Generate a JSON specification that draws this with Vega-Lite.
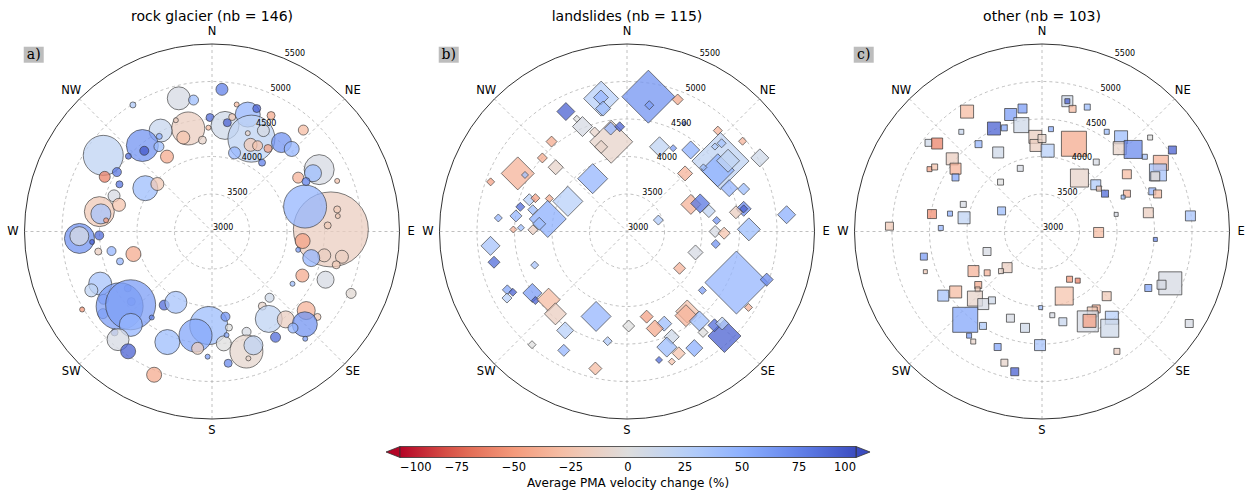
{
"$schema": "https://vega.github.io/schema/vega-lite/v6.json",
"background": "white",
"padding": {"left": 6.5, "top": 10, "right": 5, "bottom": 5},
"bounds": "flush",
"spacing": 40,
"config": {"view": {"stroke": null}, "font": "DejaVu Sans"},
"datasets": {
"spokes": [{"angle": 0}, {"angle": 45}, {"angle": 90}, {"angle": 135}],
"dirs": [{"dir": "N", "angle": 0}, {"dir": "NE", "angle": 45}, {"dir": "E", "angle": 90}, {"dir": "SE", "angle": 135}, {"dir": "S", "angle": 180}, {"dir": "SW", "angle": 225}, {"dir": "W", "angle": 270}, {"dir": "NW", "angle": 315}],
"elevs": [{"elevation": 3000}, {"elevation": 3500}, {"elevation": 4000}, {"elevation": 4500}, {"elevation": 5000}, {"elevation": 5500}],
"one": [{}],
"rg": [
{"aspect":346,"elevation":4830,"change":5,"area":529},
{"aspect":352,"elevation":4770,"change":40,"area":100},
{"aspect":328,"elevation":4990,"change":30,"area":36},
{"aspect":359,"elevation":4520,"change":85,"area":64},
{"aspect":358,"elevation":4385,"change":-30,"area":25},
{"aspect":347,"elevation":4410,"change":-15,"area":1089},
{"aspect":343,"elevation":4310,"change":-25,"area":169},
{"aspect":354,"elevation":4225,"change":-10,"area":64},
{"aspect":333,"elevation":4510,"change":15,"area":529},
{"aspect":342,"elevation":4560,"change":-15,"area":25},
{"aspect":321,"elevation":4475,"change":65,"area":1024},
{"aspect":320,"elevation":4405,"change":95,"area":81},
{"aspect":312,"elevation":4500,"change":85,"area":36},
{"aspect":328,"elevation":4335,"change":40,"area":100},
{"aspect":331,"elevation":4450,"change":50,"area":36},
{"aspect":329,"elevation":4165,"change":-40,"area":169},
{"aspect":305,"elevation":4770,"change":20,"area":1600},
{"aspect":302,"elevation":4495,"change":80,"area":81},
{"aspect":297,"elevation":4605,"change":-60,"area":121},
{"aspect":297,"elevation":4385,"change":80,"area":49},
{"aspect":303,"elevation":4060,"change":40,"area":625},
{"aspect":311,"elevation":3965,"change":-20,"area":169},
{"aspect":290,"elevation":4390,"change":5,"area":144},
{"aspect":280,"elevation":4525,"change":-20,"area":900},
{"aspect":279,"elevation":4500,"change":35,"area":400},
{"aspect":286,"elevation":4290,"change":-25,"area":169},
{"aspect":276,"elevation":4420,"change":-50,"area":25},
{"aspect":267,"elevation":4770,"change":65,"area":900},
{"aspect":268,"elevation":4770,"change":5,"area":361},
{"aspect":268,"elevation":4505,"change":85,"area":81},
{"aspect":265,"elevation":4605,"change":90,"area":25},
{"aspect":260,"elevation":4540,"change":-15,"area":49},
{"aspect":259,"elevation":4365,"change":45,"area":81},
{"aspect":252,"elevation":4290,"change":45,"area":49},
{"aspect":254,"elevation":4090,"change":-40,"area":225},
{"aspect":245,"elevation":4645,"change":35,"area":529},
{"aspect":244,"elevation":4790,"change":20,"area":169},
{"aspect":238,"elevation":4705,"change":55,"area":100},
{"aspect":233,"elevation":4820,"change":55,"area":100},
{"aspect":229,"elevation":4425,"change":55,"area":64},
{"aspect":236,"elevation":4355,"change":55,"area":49},
{"aspect":231,"elevation":4585,"change":60,"area":2209},
{"aspect":228,"elevation":4460,"change":60,"area":2500},
{"aspect":221,"elevation":4650,"change":45,"area":529},
{"aspect":239,"elevation":5020,"change":-50,"area":25},
{"aspect":213,"elevation":4170,"change":85,"area":100},
{"aspect":207,"elevation":4060,"change":35,"area":484},
{"aspect":215,"elevation":4400,"change":75,"area":25},
{"aspect":224,"elevation":4870,"change":70,"area":49},
{"aspect":221,"elevation":4910,"change":5,"area":484},
{"aspect":215,"elevation":4950,"change":90,"area":225},
{"aspect":202,"elevation":4590,"change":40,"area":625},
{"aspect":202,"elevation":5060,"change":-40,"area":225},
{"aspect":182,"elevation":4255,"change":40,"area":1444},
{"aspect":189,"elevation":4405,"change":55,"area":1089},
{"aspect":187,"elevation":4570,"change":-15,"area":144},
{"aspect":182,"elevation":4670,"change":60,"area":25},
{"aspect":89,"elevation":4585,"change":-15,"area":5625},
{"aspect":80,"elevation":4695,"change":-20,"area":49},
{"aspect":83,"elevation":4690,"change":-20,"area":25},
{"aspect":87,"elevation":4545,"change":-20,"area":49},
{"aspect":102,"elevation":4530,"change":-15,"area":169},
{"aspect":101,"elevation":4765,"change":-15,"area":169},
{"aspect":105,"elevation":4715,"change":-20,"area":64},
{"aspect":75,"elevation":4285,"change":45,"area":1849},
{"aspect":96,"elevation":4215,"change":-45,"area":225},
{"aspect":105,"elevation":4370,"change":45,"area":289},
{"aspect":102,"elevation":4175,"change":60,"area":25},
{"aspect":116,"elevation":4340,"change":-40,"area":169},
{"aspect":113,"elevation":4645,"change":5,"area":289},
{"aspect":123,"elevation":4280,"change":40,"area":25},
{"aspect":114,"elevation":5030,"change":-5,"area":100},
{"aspect":139,"elevation":4170,"change":10,"area":81},
{"aspect":146,"elevation":4200,"change":-10,"area":64},
{"aspect":147,"elevation":4390,"change":20,"area":729},
{"aspect":140,"elevation":4530,"change":-15,"area":289},
{"aspect":130,"elevation":4640,"change":-35,"area":324},
{"aspect":129,"elevation":4810,"change":-20,"area":49},
{"aspect":135,"elevation":4750,"change":65,"area":625},
{"aspect":140,"elevation":4680,"change":45,"area":100},
{"aspect":139,"elevation":4895,"change":60,"area":25},
{"aspect":149,"elevation":4645,"change":85,"area":100},
{"aspect":171,"elevation":4150,"change":65,"area":81},
{"aspect":170,"elevation":4300,"change":0,"area":49},
{"aspect":174,"elevation":4500,"change":0,"area":225},
{"aspect":172,"elevation":4395,"change":55,"area":25},
{"aspect":161,"elevation":4415,"change":5,"area":81},
{"aspect":164,"elevation":4665,"change":-8,"area":1089},
{"aspect":160,"elevation":4615,"change":20,"area":361},
{"aspect":173,"elevation":4770,"change":70,"area":64},
{"aspect":164,"elevation":4760,"change":-10,"area":25},
{"aspect":4,"elevation":4900,"change":75,"area":144},
{"aspect":11,"elevation":4725,"change":-30,"area":25},
{"aspect":17,"elevation":4630,"change":45,"area":625},
{"aspect":20,"elevation":4745,"change":90,"area":64},
{"aspect":27,"elevation":4735,"change":-40,"area":64},
{"aspect":7,"elevation":4425,"change":10,"area":784},
{"aspect":8,"elevation":4465,"change":90,"area":64},
{"aspect":10,"elevation":4550,"change":-20,"area":49},
{"aspect":23,"elevation":4345,"change":20,"area":2209},
{"aspect":27,"elevation":4510,"change":5,"area":144},
{"aspect":20,"elevation":4395,"change":-10,"area":25},
{"aspect":24,"elevation":4265,"change":-20,"area":169},
{"aspect":28,"elevation":4295,"change":-25,"area":100},
{"aspect":34,"elevation":4335,"change":-45,"area":64},
{"aspect":38,"elevation":4505,"change":65,"area":400},
{"aspect":44,"elevation":4530,"change":45,"area":225},
{"aspect":16,"elevation":4090,"change":45,"area":144},
{"aspect":36,"elevation":4135,"change":75,"area":49},
{"aspect":42,"elevation":4820,"change":-30,"area":100},
{"aspect":60,"elevation":4650,"change":5,"area":900},
{"aspect":60,"elevation":4555,"change":40,"area":289},
{"aspect":58,"elevation":4355,"change":-35,"area":121},
{"aspect":62,"elevation":4420,"change":75,"area":64},
{"aspect":68,"elevation":4800,"change":-25,"area":25}
],
"ls": [
{"aspect":349,"elevation":4805,"change":25,"area":1225},
{"aspect":349,"elevation":4820,"change":45,"area":225},
{"aspect":349,"elevation":4670,"change":40,"area":225},
{"aspect":333,"elevation":4795,"change":90,"area":324},
{"aspect":337,"elevation":4520,"change":5,"area":400},
{"aspect":336,"elevation":4645,"change":0,"area":49},
{"aspect":350,"elevation":4215,"change":-10,"area":1849},
{"aspect":342,"elevation":4395,"change":-10,"area":100},
{"aspect":343,"elevation":4180,"change":-10,"area":169},
{"aspect":351,"elevation":4390,"change":45,"area":169},
{"aspect":356,"elevation":4400,"change":90,"area":100},
{"aspect":320,"elevation":4565,"change":-40,"area":121},
{"aspect":311,"elevation":4495,"change":-40,"area":100},
{"aspect":312,"elevation":4280,"change":-10,"area":225},
{"aspect":298,"elevation":4650,"change":-35,"area":1089},
{"aspect":299,"elevation":4555,"change":40,"area":49},
{"aspect":290,"elevation":4935,"change":-45,"area":64},
{"aspect":327,"elevation":3840,"change":45,"area":900},
{"aspect":297,"elevation":3885,"change":25,"area":900},
{"aspect":288,"elevation":4370,"change":25,"area":144},
{"aspect":290,"elevation":4300,"change":-45,"area":81},
{"aspect":293,"elevation":4125,"change":-40,"area":64},
{"aspect":279,"elevation":4070,"change":50,"area":1369},
{"aspect":275,"elevation":4175,"change":40,"area":169},
{"aspect":283,"elevation":4460,"change":85,"area":81},
{"aspect":278,"elevation":4495,"change":45,"area":144},
{"aspect":283,"elevation":4290,"change":40,"area":100},
{"aspect":276,"elevation":4725,"change":45,"area":64},
{"aspect":271,"elevation":4515,"change":-35,"area":49},
{"aspect":272,"elevation":4415,"change":40,"area":49},
{"aspect":271,"elevation":4255,"change":-15,"area":100},
{"aspect":264,"elevation":4830,"change":35,"area":361},
{"aspect":257,"elevation":4820,"change":85,"area":144},
{"aspect":250,"elevation":4310,"change":35,"area":64},
{"aspect":244,"elevation":4775,"change":55,"area":100},
{"aspect":242,"elevation":4725,"change":90,"area":64},
{"aspect":241,"elevation":4830,"change":25,"area":100},
{"aspect":237,"elevation":4505,"change":60,"area":361},
{"aspect":233,"elevation":4530,"change":90,"area":64},
{"aspect":229,"elevation":4385,"change":-30,"area":529},
{"aspect":221,"elevation":4455,"change":-15,"area":484},
{"aspect":200,"elevation":4205,"change":45,"area":900},
{"aspect":212,"elevation":4555,"change":25,"area":289},
{"aspect":220,"elevation":4970,"change":0,"area":64},
{"aspect":208,"elevation":4795,"change":45,"area":144},
{"aspect":190,"elevation":4485,"change":30,"area":81},
{"aspect":193,"elevation":4875,"change":-30,"area":169},
{"aspect":179,"elevation":4260,"change":0,"area":144},
{"aspect":90,"elevation":4175,"change":5,"area":144},
{"aspect":91,"elevation":4295,"change":-25,"area":144},
{"aspect":89,"elevation":4625,"change":40,"area":529},
{"aspect":98,"elevation":4195,"change":65,"area":81},
{"aspect":107,"elevation":3955,"change":5,"area":225},
{"aspect":125,"elevation":3855,"change":-35,"area":144},
{"aspect":115,"elevation":4610,"change":45,"area":3969},
{"aspect":109,"elevation":4970,"change":70,"area":169},
{"aspect":128,"elevation":4275,"change":60,"area":64},
{"aspect":122,"elevation":4910,"change":-35,"area":64},
{"aspect":167,"elevation":4165,"change":-45,"area":169},
{"aspect":143,"elevation":4335,"change":-25,"area":529},
{"aspect":145,"elevation":4370,"change":-35,"area":484},
{"aspect":141,"elevation":4535,"change":40,"area":400},
{"aspect":158,"elevation":4325,"change":40,"area":225},
{"aspect":164,"elevation":4345,"change":-40,"area":289},
{"aspect":157,"elevation":4525,"change":10,"area":225},
{"aspect":143,"elevation":4685,"change":0,"area":100},
{"aspect":137,"elevation":4905,"change":90,"area":1089},
{"aspect":137,"elevation":4710,"change":85,"area":169},
{"aspect":134,"elevation":4765,"change":25,"area":169},
{"aspect":161,"elevation":4630,"change":40,"area":400},
{"aspect":157,"elevation":4765,"change":-25,"area":169},
{"aspect":150,"elevation":4795,"change":50,"area":289},
{"aspect":166,"elevation":4765,"change":85,"area":49},
{"aspect":161,"elevation":4835,"change":-25,"area":49},
{"aspect":9,"elevation":4820,"change":65,"area":2809},
{"aspect":10,"elevation":4710,"change":60,"area":81},
{"aspect":21,"elevation":4885,"change":-40,"area":121},
{"aspect":28,"elevation":4630,"change":70,"area":25},
{"aspect":21,"elevation":4210,"change":20,"area":400},
{"aspect":29,"elevation":4270,"change":60,"area":49},
{"aspect":38,"elevation":4380,"change":50,"area":324},
{"aspect":42,"elevation":4810,"change":-35,"area":81},
{"aspect":52,"elevation":4955,"change":-35,"area":64},
{"aspect":53,"elevation":4560,"change":20,"area":3249},
{"aspect":56,"elevation":4460,"change":50,"area":1089},
{"aspect":55,"elevation":4645,"change":20,"area":529},
{"aspect":47,"elevation":4725,"change":35,"area":81},
{"aspect":46,"elevation":4630,"change":30,"area":49},
{"aspect":50,"elevation":4330,"change":40,"area":49},
{"aspect":61,"elevation":5025,"change":10,"area":324},
{"aspect":45,"elevation":4095,"change":-35,"area":225},
{"aspect":67,"elevation":4480,"change":45,"area":289},
{"aspect":70,"elevation":4655,"change":40,"area":144},
{"aspect":67,"elevation":3925,"change":-35,"area":400},
{"aspect":69,"elevation":4045,"change":80,"area":361},
{"aspect":76,"elevation":4125,"change":20,"area":169},
{"aspect":79,"elevation":4585,"change":70,"area":225},
{"aspect":79,"elevation":4585,"change":90,"area":64},
{"aspect":80,"elevation":4475,"change":-15,"area":169},
{"aspect":84,"elevation":5140,"change":50,"area":324},
{"aspect":70,"elevation":3445,"change":30,"area":100},
{"aspect":83,"elevation":4205,"change":65,"area":64}
],
"ot": [
{"aspect":328,"elevation":4885,"change":-30,"area":169},
{"aspect":345,"elevation":4615,"change":60,"area":144},
{"aspect":351,"elevation":4660,"change":60,"area":81},
{"aspect":335,"elevation":4515,"change":90,"area":169},
{"aspect":340,"elevation":4470,"change":55,"area":36},
{"aspect":349,"elevation":4445,"change":10,"area":225},
{"aspect":356,"elevation":4265,"change":-15,"area":169},
{"aspect":356,"elevation":4150,"change":-15,"area":144},
{"aspect":321,"elevation":4710,"change":15,"area":25},
{"aspect":308,"elevation":4920,"change":10,"area":49},
{"aspect":310,"elevation":4825,"change":-60,"area":121},
{"aspect":324,"elevation":4440,"change":45,"area":49},
{"aspect":331,"elevation":4205,"change":10,"area":121},
{"aspect":309,"elevation":4540,"change":-15,"area":144},
{"aspect":299,"elevation":4715,"change":-45,"area":25},
{"aspect":301,"elevation":4670,"change":-25,"area":36},
{"aspect":306,"elevation":4425,"change":-35,"area":121},
{"aspect":302,"elevation":4360,"change":55,"area":49},
{"aspect":341,"elevation":3890,"change":5,"area":36},
{"aspect":320,"elevation":3860,"change":0,"area":36},
{"aspect":289,"elevation":4110,"change":5,"area":36},
{"aspect":279,"elevation":4485,"change":-55,"area":81},
{"aspect":281,"elevation":4250,"change":50,"area":25},
{"aspect":280,"elevation":4055,"change":20,"area":144},
{"aspect":297,"elevation":3605,"change":40,"area":64},
{"aspect":272,"elevation":5035,"change":-20,"area":64},
{"aspect":272,"elevation":4350,"change":45,"area":25},
{"aspect":11,"elevation":4770,"change":10,"area":121},
{"aspect":11,"elevation":4770,"change":90,"area":25},
{"aspect":14,"elevation":4685,"change":-30,"area":49},
{"aspect":20,"elevation":4765,"change":40,"area":36},
{"aspect":5,"elevation":4370,"change":50,"area":25},
{"aspect":0,"elevation":4240,"change":-10,"area":64},
{"aspect":4,"elevation":4080,"change":25,"area":169},
{"aspect":20,"elevation":4245,"change":-40,"area":625},
{"aspect":33,"elevation":4585,"change":40,"area":25},
{"aspect":40,"elevation":4640,"change":40,"area":169},
{"aspect":43,"elevation":4520,"change":-10,"area":169},
{"aspect":48,"elevation":4635,"change":70,"area":324},
{"aspect":54,"elevation":4695,"change":35,"area":25},
{"aspect":49,"elevation":4910,"change":0,"area":25},
{"aspect":58,"elevation":5050,"change":90,"area":64},
{"aspect":60,"elevation":4830,"change":-35,"area":225},
{"aspect":63,"elevation":4735,"change":35,"area":289},
{"aspect":64,"elevation":4680,"change":-5,"area":81},
{"aspect":38,"elevation":4175,"change":5,"area":36},
{"aspect":35,"elevation":3870,"change":-10,"area":324},
{"aspect":56,"elevation":4365,"change":-30,"area":81},
{"aspect":49,"elevation":3950,"change":30,"area":100},
{"aspect":53,"elevation":3950,"change":-20,"area":25},
{"aspect":59,"elevation":3980,"change":85,"area":49},
{"aspect":66,"elevation":4240,"change":-35,"area":49},
{"aspect":67,"elevation":4175,"change":40,"area":16},
{"aspect":70,"elevation":4565,"change":45,"area":49},
{"aspect":72,"elevation":4620,"change":-30,"area":64},
{"aspect":77,"elevation":4015,"change":5,"area":16},
{"aspect":80,"elevation":4440,"change":-15,"area":100},
{"aspect":84,"elevation":4990,"change":35,"area":100},
{"aspect":91,"elevation":3755,"change":-30,"area":100},
{"aspect":258,"elevation":4610,"change":60,"area":49},
{"aspect":251,"elevation":4645,"change":-20,"area":16},
{"aspect":250,"elevation":3780,"change":5,"area":64},
{"aspect":240,"elevation":4055,"change":-35,"area":121},
{"aspect":233,"elevation":3915,"change":-35,"area":36},
{"aspect":224,"elevation":3670,"change":-15,"area":100},
{"aspect":226,"elevation":3760,"change":-10,"area":25},
{"aspect":230,"elevation":4110,"change":-40,"area":49},
{"aspect":228,"elevation":4155,"change":-20,"area":25},
{"aspect":237,"elevation":4570,"change":35,"area":121},
{"aspect":235,"elevation":4405,"change":-30,"area":144},
{"aspect":225,"elevation":4265,"change":-10,"area":225},
{"aspect":219,"elevation":4245,"change":5,"area":121},
{"aspect":216,"elevation":4135,"change":10,"area":49},
{"aspect":221,"elevation":4560,"change":55,"area":625},
{"aspect":212,"elevation":4485,"change":30,"area":49},
{"aspect":215,"elevation":4695,"change":60,"area":25},
{"aspect":212,"elevation":4730,"change":-10,"area":25},
{"aspect":200,"elevation":4230,"change":5,"area":64},
{"aspect":190,"elevation":4305,"change":10,"area":81},
{"aspect":201,"elevation":4650,"change":55,"area":49},
{"aspect":196,"elevation":4820,"change":-10,"area":49},
{"aspect":191,"elevation":4905,"change":90,"area":64},
{"aspect":181,"elevation":4515,"change":35,"area":121},
{"aspect":181,"elevation":4015,"change":40,"area":16},
{"aspect":94,"elevation":4515,"change":70,"area":16},
{"aspect":150,"elevation":3735,"change":-50,"area":36},
{"aspect":144,"elevation":3810,"change":-60,"area":25},
{"aspect":161,"elevation":3910,"change":-25,"area":324},
{"aspect":135,"elevation":4220,"change":-20,"area":81},
{"aspect":173,"elevation":4125,"change":5,"area":25},
{"aspect":167,"elevation":4235,"change":15,"area":64},
{"aspect":145,"elevation":4260,"change":-35,"area":64},
{"aspect":148,"elevation":4265,"change":-20,"area":100},
{"aspect":153,"elevation":4345,"change":5,"area":441},
{"aspect":152,"elevation":4350,"change":-45,"area":169},
{"aspect":141,"elevation":4480,"change":25,"area":169},
{"aspect":145,"elevation":4575,"change":10,"area":324},
{"aspect":118,"elevation":4605,"change":55,"area":49},
{"aspect":112,"elevation":4845,"change":5,"area":529},
{"aspect":114,"elevation":4745,"change":5,"area":81},
{"aspect":122,"elevation":5315,"change":5,"area":64},
{"aspect":148,"elevation":4885,"change":-15,"area":36}
]
},
"hconcat": [
{
"width": 375, "height": 375,
"title": {"text": "rock glacier (nb = 146)", "fontSize": 14, "fontWeight": "normal", "font": "DejaVu Sans", "color": "black", "offset": 2},
"layer": [
{"data": {"name": "one"}, "mark": {"type": "point", "shape": "circle", "filled": false, "color": "#b0b0b0", "opacity": 1, "strokeWidth": 0.8, "strokeDash": [3, 3], "size": 5625},
 "encoding": {"x": {"datum": 0, "type": "quantitative", "scale": {"domain": [-2500, 2500], "nice": false, "zero": false}, "axis": null}, "y": {"datum": 0, "type": "quantitative", "scale": {"domain": [-2500, 2500], "nice": false, "zero": false}, "axis": null}}},
{"data": {"name": "one"}, "mark": {"type": "point", "shape": "circle", "filled": false, "color": "#b0b0b0", "opacity": 1, "strokeWidth": 0.8, "strokeDash": [3, 3], "size": 22500},
 "encoding": {"x": {"datum": 0, "type": "quantitative"}, "y": {"datum": 0, "type": "quantitative"}}},
{"data": {"name": "one"}, "mark": {"type": "point", "shape": "circle", "filled": false, "color": "#b0b0b0", "opacity": 1, "strokeWidth": 0.8, "strokeDash": [3, 3], "size": 50625},
 "encoding": {"x": {"datum": 0, "type": "quantitative"}, "y": {"datum": 0, "type": "quantitative"}}},
{"data": {"name": "one"}, "mark": {"type": "point", "shape": "circle", "filled": false, "color": "#b0b0b0", "opacity": 1, "strokeWidth": 0.8, "strokeDash": [3, 3], "size": 90000},
 "encoding": {"x": {"datum": 0, "type": "quantitative"}, "y": {"datum": 0, "type": "quantitative"}}},
{"data": {"name": "spokes"}, "transform": [{"calculate": "(5500-3000)*sin(datum.angle*PI/180)", "as": "ex"}, {"calculate": "(5500-3000)*cos(datum.angle*PI/180)", "as": "ey"}, {"calculate": "-datum.ex", "as": "nx"}, {"calculate": "-datum.ey", "as": "ny"}],
 "mark": {"type": "rule", "color": "#b0b0b0", "strokeWidth": 0.8, "strokeDash": [3, 3]},
 "encoding": {"x": {"field": "nx", "type": "quantitative"}, "y": {"field": "ny", "type": "quantitative"}, "x2": {"field": "ex"}, "y2": {"field": "ey"}}},
{"data": {"name": "one"}, "mark": {"type": "point", "shape": "circle", "filled": false, "color": "#333333", "opacity": 1, "strokeWidth": 1, "size": 140625},
 "encoding": {"x": {"datum": 0, "type": "quantitative"}, "y": {"datum": 0, "type": "quantitative"}}},
{"data": {"name": "rg"}, "transform": [{"calculate": "(datum.elevation-3000)*sin(datum.aspect*PI/180)", "as": "px"}, {"calculate": "(datum.elevation-3000)*cos(datum.aspect*PI/180)", "as": "py"}],
 "mark": {"type": "point", "shape": "circle", "filled": true, "opacity": 1, "fillOpacity": 0.75, "stroke": "#333333", "strokeOpacity": 0.7, "strokeWidth": 0.9},
 "encoding": {
  "x": {"field": "px", "type": "quantitative"},
  "y": {"field": "py", "type": "quantitative"},
  "color": {"field": "change", "type": "quantitative", "scale": {"domain": [-100, -75, -50, -25, 0, 25, 50, 75, 100], "range": ["#b40426", "#de604d", "#f49a7b", "#f5c4ad", "#dddddd", "#b8d0f9", "#8db0fe", "#6282ea", "#3b4cc0"], "interpolate": "rgb"},
   "legend": {"orient": "none", "legendX": 375.5, "legendY": 402.5, "direction": "horizontal", "gradientLength": 456, "gradientThickness": 11, "titleOrient": "bottom", "title": "Average PMA velocity change (%)", "titleFontSize": 12, "titleFontWeight": "normal", "titleAnchor": "middle", "titleColor": "black", "titlePadding": 4, "titleLimit": 1000, "values": [-100, -75, -50, -25, 0, 25, 50, 75, 100], "format": "d", "labelFontSize": 11.5, "labelColor": "black", "labelAlign": "center", "labelOverlap": false, "labelOffset": 4, "gradientStrokeColor": "#333333", "gradientStrokeWidth": 0.8, "padding": 0, "encoding": {"labels": {"update": {"align": {"value": "center"}}}}}},
  "size": {"field": "area", "type": "quantitative", "scale": {"type": "linear", "domain": [0, 5625], "range": [0, 5625]}, "legend": null}}},
{"data": {"name": "elevs"}, "transform": [{"calculate": "(datum.elevation-3000)*sin(22.5*PI/180)", "as": "px"}, {"calculate": "(datum.elevation-3000)*cos(22.5*PI/180)", "as": "py"}],
 "mark": {"type": "text", "align": "left", "baseline": "bottom", "fontSize": 8, "color": "black", "dx": 1},
 "encoding": {"x": {"field": "px", "type": "quantitative"}, "y": {"field": "py", "type": "quantitative"}, "text": {"field": "elevation", "type": "quantitative", "format": "d"}}},
{"data": {"name": "dirs"}, "transform": [{"calculate": "2655*sin(datum.angle*PI/180)", "as": "px"}, {"calculate": "2655*cos(datum.angle*PI/180)", "as": "py"}],
 "mark": {"type": "text", "align": "center", "baseline": "middle", "fontSize": 11.5, "color": "black"},
 "encoding": {"x": {"field": "px", "type": "quantitative"}, "y": {"field": "py", "type": "quantitative"}, "text": {"field": "dir", "type": "nominal"}}},
{"data": {"values": [{"tag": "a)"}]}, "mark": {"type": "point", "shape": "M-1.25,-1H1.25V1H-1.25Z", "filled": true, "color": "#bdbdbd", "opacity": 1, "size": 256},
 "encoding": {"x": {"datum": -2377, "type": "quantitative"}, "y": {"datum": 2357, "type": "quantitative"}}},
{"data": {"values": [{"tag": "a)"}]}, "mark": {"type": "text", "font": "DejaVu Serif", "fontSize": 14, "align": "center", "baseline": "middle", "color": "black"},
 "encoding": {"x": {"datum": -2377, "type": "quantitative"}, "y": {"datum": 2357, "type": "quantitative"}, "text": {"field": "tag", "type": "nominal"}}}
]
},
{
"width": 375, "height": 375,
"title": {"text": "landslides (nb = 115)", "fontSize": 14, "fontWeight": "normal", "font": "DejaVu Sans", "color": "black", "offset": 2},
"layer": [
{"data": {"name": "one"}, "mark": {"type": "point", "shape": "circle", "filled": false, "color": "#b0b0b0", "opacity": 1, "strokeWidth": 0.8, "strokeDash": [3, 3], "size": 5625},
 "encoding": {"x": {"datum": 0, "type": "quantitative", "scale": {"domain": [-2500, 2500], "nice": false, "zero": false}, "axis": null}, "y": {"datum": 0, "type": "quantitative", "scale": {"domain": [-2500, 2500], "nice": false, "zero": false}, "axis": null}}},
{"data": {"name": "one"}, "mark": {"type": "point", "shape": "circle", "filled": false, "color": "#b0b0b0", "opacity": 1, "strokeWidth": 0.8, "strokeDash": [3, 3], "size": 22500},
 "encoding": {"x": {"datum": 0, "type": "quantitative"}, "y": {"datum": 0, "type": "quantitative"}}},
{"data": {"name": "one"}, "mark": {"type": "point", "shape": "circle", "filled": false, "color": "#b0b0b0", "opacity": 1, "strokeWidth": 0.8, "strokeDash": [3, 3], "size": 50625},
 "encoding": {"x": {"datum": 0, "type": "quantitative"}, "y": {"datum": 0, "type": "quantitative"}}},
{"data": {"name": "one"}, "mark": {"type": "point", "shape": "circle", "filled": false, "color": "#b0b0b0", "opacity": 1, "strokeWidth": 0.8, "strokeDash": [3, 3], "size": 90000},
 "encoding": {"x": {"datum": 0, "type": "quantitative"}, "y": {"datum": 0, "type": "quantitative"}}},
{"data": {"name": "spokes"}, "transform": [{"calculate": "(5500-3000)*sin(datum.angle*PI/180)", "as": "ex"}, {"calculate": "(5500-3000)*cos(datum.angle*PI/180)", "as": "ey"}, {"calculate": "-datum.ex", "as": "nx"}, {"calculate": "-datum.ey", "as": "ny"}],
 "mark": {"type": "rule", "color": "#b0b0b0", "strokeWidth": 0.8, "strokeDash": [3, 3]},
 "encoding": {"x": {"field": "nx", "type": "quantitative"}, "y": {"field": "ny", "type": "quantitative"}, "x2": {"field": "ex"}, "y2": {"field": "ey"}}},
{"data": {"name": "one"}, "mark": {"type": "point", "shape": "circle", "filled": false, "color": "#333333", "opacity": 1, "strokeWidth": 1, "size": 140625},
 "encoding": {"x": {"datum": 0, "type": "quantitative"}, "y": {"datum": 0, "type": "quantitative"}}},
{"data": {"name": "ls"}, "transform": [{"calculate": "(datum.elevation-3000)*sin(datum.aspect*PI/180)", "as": "px"}, {"calculate": "(datum.elevation-3000)*cos(datum.aspect*PI/180)", "as": "py"}],
 "mark": {"type": "point", "shape": "diamond", "filled": true, "opacity": 1, "fillOpacity": 0.75, "stroke": "#333333", "strokeOpacity": 0.7, "strokeWidth": 0.9},
 "encoding": {
  "x": {"field": "px", "type": "quantitative"},
  "y": {"field": "py", "type": "quantitative"},
  "color": {"field": "change", "type": "quantitative", "scale": {"domain": [-100, -75, -50, -25, 0, 25, 50, 75, 100], "range": ["#b40426", "#de604d", "#f49a7b", "#f5c4ad", "#dddddd", "#b8d0f9", "#8db0fe", "#6282ea", "#3b4cc0"], "interpolate": "rgb"},
   "legend": {"orient": "none", "legendX": 375.5, "legendY": 402.5, "direction": "horizontal", "gradientLength": 456, "gradientThickness": 11, "titleOrient": "bottom", "title": "Average PMA velocity change (%)", "titleFontSize": 12, "titleFontWeight": "normal", "titleAnchor": "middle", "titleColor": "black", "titlePadding": 4, "titleLimit": 1000, "values": [-100, -75, -50, -25, 0, 25, 50, 75, 100], "format": "d", "labelFontSize": 11.5, "labelColor": "black", "labelAlign": "center", "labelOverlap": false, "labelOffset": 4, "gradientStrokeColor": "#333333", "gradientStrokeWidth": 0.8, "padding": 0, "encoding": {"labels": {"update": {"align": {"value": "center"}}}}}},
  "size": {"field": "area", "type": "quantitative", "scale": {"type": "linear", "domain": [0, 5625], "range": [0, 5625]}, "legend": null}}},
{"data": {"name": "elevs"}, "transform": [{"calculate": "(datum.elevation-3000)*sin(22.5*PI/180)", "as": "px"}, {"calculate": "(datum.elevation-3000)*cos(22.5*PI/180)", "as": "py"}],
 "mark": {"type": "text", "align": "left", "baseline": "bottom", "fontSize": 8, "color": "black", "dx": 1},
 "encoding": {"x": {"field": "px", "type": "quantitative"}, "y": {"field": "py", "type": "quantitative"}, "text": {"field": "elevation", "type": "quantitative", "format": "d"}}},
{"data": {"name": "dirs"}, "transform": [{"calculate": "2655*sin(datum.angle*PI/180)", "as": "px"}, {"calculate": "2655*cos(datum.angle*PI/180)", "as": "py"}],
 "mark": {"type": "text", "align": "center", "baseline": "middle", "fontSize": 11.5, "color": "black"},
 "encoding": {"x": {"field": "px", "type": "quantitative"}, "y": {"field": "py", "type": "quantitative"}, "text": {"field": "dir", "type": "nominal"}}},
{"data": {"values": [{"tag": "b)"}]}, "mark": {"type": "point", "shape": "M-1.25,-1H1.25V1H-1.25Z", "filled": true, "color": "#bdbdbd", "opacity": 1, "size": 256},
 "encoding": {"x": {"datum": -2377, "type": "quantitative"}, "y": {"datum": 2357, "type": "quantitative"}}},
{"data": {"values": [{"tag": "b)"}]}, "mark": {"type": "text", "font": "DejaVu Serif", "fontSize": 14, "align": "center", "baseline": "middle", "color": "black"},
 "encoding": {"x": {"datum": -2377, "type": "quantitative"}, "y": {"datum": 2357, "type": "quantitative"}, "text": {"field": "tag", "type": "nominal"}}},
{"data": {"values": [{"end": "under"}]}, "mark": {"type": "point", "shape": "M-1,0L1,-0.786L1,0.786Z", "filled": true, "color": "#b40426", "opacity": 1, "stroke": "#333333", "strokeWidth": 0.8, "size": 196},
 "encoding": {"x": {"datum": -3120, "type": "quantitative"}, "y": {"datum": -2940, "type": "quantitative"}}},
{"data": {"values": [{"end": "over"}]}, "mark": {"type": "point", "shape": "M1,0L-1,-0.786L-1,0.786Z", "filled": true, "color": "#3b4cc0", "opacity": 1, "stroke": "#333333", "strokeWidth": 0.8, "size": 196},
 "encoding": {"x": {"datum": 3147, "type": "quantitative"}, "y": {"datum": -2940, "type": "quantitative"}}}
]
},
{
"width": 375, "height": 375,
"title": {"text": "other (nb = 103)", "fontSize": 14, "fontWeight": "normal", "font": "DejaVu Sans", "color": "black", "offset": 2},
"layer": [
{"data": {"name": "one"}, "mark": {"type": "point", "shape": "circle", "filled": false, "color": "#b0b0b0", "opacity": 1, "strokeWidth": 0.8, "strokeDash": [3, 3], "size": 5625},
 "encoding": {"x": {"datum": 0, "type": "quantitative", "scale": {"domain": [-2500, 2500], "nice": false, "zero": false}, "axis": null}, "y": {"datum": 0, "type": "quantitative", "scale": {"domain": [-2500, 2500], "nice": false, "zero": false}, "axis": null}}},
{"data": {"name": "one"}, "mark": {"type": "point", "shape": "circle", "filled": false, "color": "#b0b0b0", "opacity": 1, "strokeWidth": 0.8, "strokeDash": [3, 3], "size": 22500},
 "encoding": {"x": {"datum": 0, "type": "quantitative"}, "y": {"datum": 0, "type": "quantitative"}}},
{"data": {"name": "one"}, "mark": {"type": "point", "shape": "circle", "filled": false, "color": "#b0b0b0", "opacity": 1, "strokeWidth": 0.8, "strokeDash": [3, 3], "size": 50625},
 "encoding": {"x": {"datum": 0, "type": "quantitative"}, "y": {"datum": 0, "type": "quantitative"}}},
{"data": {"name": "one"}, "mark": {"type": "point", "shape": "circle", "filled": false, "color": "#b0b0b0", "opacity": 1, "strokeWidth": 0.8, "strokeDash": [3, 3], "size": 90000},
 "encoding": {"x": {"datum": 0, "type": "quantitative"}, "y": {"datum": 0, "type": "quantitative"}}},
{"data": {"name": "spokes"}, "transform": [{"calculate": "(5500-3000)*sin(datum.angle*PI/180)", "as": "ex"}, {"calculate": "(5500-3000)*cos(datum.angle*PI/180)", "as": "ey"}, {"calculate": "-datum.ex", "as": "nx"}, {"calculate": "-datum.ey", "as": "ny"}],
 "mark": {"type": "rule", "color": "#b0b0b0", "strokeWidth": 0.8, "strokeDash": [3, 3]},
 "encoding": {"x": {"field": "nx", "type": "quantitative"}, "y": {"field": "ny", "type": "quantitative"}, "x2": {"field": "ex"}, "y2": {"field": "ey"}}},
{"data": {"name": "one"}, "mark": {"type": "point", "shape": "circle", "filled": false, "color": "#333333", "opacity": 1, "strokeWidth": 1, "size": 140625},
 "encoding": {"x": {"datum": 0, "type": "quantitative"}, "y": {"datum": 0, "type": "quantitative"}}},
{"data": {"name": "ot"}, "transform": [{"calculate": "(datum.elevation-3000)*sin(datum.aspect*PI/180)", "as": "px"}, {"calculate": "(datum.elevation-3000)*cos(datum.aspect*PI/180)", "as": "py"}],
 "mark": {"type": "point", "shape": "square", "filled": true, "opacity": 1, "fillOpacity": 0.75, "stroke": "#333333", "strokeOpacity": 0.7, "strokeWidth": 1},
 "encoding": {
  "x": {"field": "px", "type": "quantitative"},
  "y": {"field": "py", "type": "quantitative"},
  "color": {"field": "change", "type": "quantitative", "scale": {"domain": [-100, -75, -50, -25, 0, 25, 50, 75, 100], "range": ["#b40426", "#de604d", "#f49a7b", "#f5c4ad", "#dddddd", "#b8d0f9", "#8db0fe", "#6282ea", "#3b4cc0"], "interpolate": "rgb"},
   "legend": {"orient": "none", "legendX": 375.5, "legendY": 402.5, "direction": "horizontal", "gradientLength": 456, "gradientThickness": 11, "titleOrient": "bottom", "title": "Average PMA velocity change (%)", "titleFontSize": 12, "titleFontWeight": "normal", "titleAnchor": "middle", "titleColor": "black", "titlePadding": 4, "titleLimit": 1000, "values": [-100, -75, -50, -25, 0, 25, 50, 75, 100], "format": "d", "labelFontSize": 11.5, "labelColor": "black", "labelAlign": "center", "labelOverlap": false, "labelOffset": 4, "gradientStrokeColor": "#333333", "gradientStrokeWidth": 0.8, "padding": 0, "encoding": {"labels": {"update": {"align": {"value": "center"}}}}}},
  "size": {"field": "area", "type": "quantitative", "scale": {"type": "linear", "domain": [0, 5625], "range": [0, 5625]}, "legend": null}}},
{"data": {"name": "elevs"}, "transform": [{"calculate": "(datum.elevation-3000)*sin(22.5*PI/180)", "as": "px"}, {"calculate": "(datum.elevation-3000)*cos(22.5*PI/180)", "as": "py"}],
 "mark": {"type": "text", "align": "left", "baseline": "bottom", "fontSize": 8, "color": "black", "dx": 1},
 "encoding": {"x": {"field": "px", "type": "quantitative"}, "y": {"field": "py", "type": "quantitative"}, "text": {"field": "elevation", "type": "quantitative", "format": "d"}}},
{"data": {"name": "dirs"}, "transform": [{"calculate": "2655*sin(datum.angle*PI/180)", "as": "px"}, {"calculate": "2655*cos(datum.angle*PI/180)", "as": "py"}],
 "mark": {"type": "text", "align": "center", "baseline": "middle", "fontSize": 11.5, "color": "black"},
 "encoding": {"x": {"field": "px", "type": "quantitative"}, "y": {"field": "py", "type": "quantitative"}, "text": {"field": "dir", "type": "nominal"}}},
{"data": {"values": [{"tag": "c)"}]}, "mark": {"type": "point", "shape": "M-1.25,-1H1.25V1H-1.25Z", "filled": true, "color": "#bdbdbd", "opacity": 1, "size": 256},
 "encoding": {"x": {"datum": -2377, "type": "quantitative"}, "y": {"datum": 2357, "type": "quantitative"}}},
{"data": {"values": [{"tag": "c)"}]}, "mark": {"type": "text", "font": "DejaVu Serif", "fontSize": 14, "align": "center", "baseline": "middle", "color": "black"},
 "encoding": {"x": {"datum": -2377, "type": "quantitative"}, "y": {"datum": 2357, "type": "quantitative"}, "text": {"field": "tag", "type": "nominal"}}}
]
}
]
}
